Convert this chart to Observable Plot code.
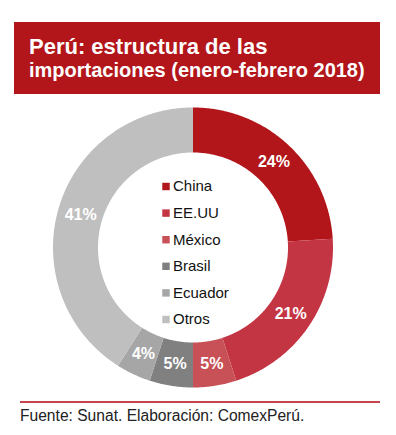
<!DOCTYPE html>
<html>
<head>
<meta charset="utf-8">
<script src="https://cdn.jsdelivr.net/npm/d3@7"></script>
<script src="https://cdn.jsdelivr.net/npm/@observablehq/plot@0.6"></script>
<style>
  html, body { margin: 0; padding: 0; background: #fff; }
  body { width: 396px; height: 435px; overflow: hidden; font-family: "Liberation Sans", Arial, sans-serif; }
  #title {
    margin: 22px 0 0 14px; width: 366px; height: 72px; box-sizing: border-box;
    background: #B2161A; color: #fff; font-weight: bold;
    padding: 13px 0 0 15px; white-space: nowrap;
  }
  #title .l1 { font-size: 22px; line-height: 23.5px; }
  #title .l2 { font-size: 20px; line-height: 23.5px; }
  #chart { height: 300px; }
  #chart svg { display: block; }
  #footer {
    margin: 7px 0 0 20px; width: 360px; border-top: 2px solid #C9454C;
    padding-top: 4px; font-size: 15.6px; line-height: 18px; color: #222; white-space: nowrap;
  }
</style>
</head>
<body>
<div id="title"><div class="l1">Perú: estructura de las</div><div class="l2">importaciones (enero-febrero 2018)</div></div>
<div id="chart"></div>
<div id="footer">Fuente: Sunat. Elaboración: ComexPerú.</div>
<script>
const categories = ["China", "EE.UU", "México", "Brasil", "Ecuador", "Otros"];
const shares = [24, 21, 5, 5, 4, 41];
const labels = ["24%", "21%", "5%", "5%", "4%", "41%"];
const colors = ["#B2161A", "#C43544", "#C85057", "#808080", "#A6A6A6", "#BFBFBF"];

const R = 140, r0 = 95, rLabel = 117.5;
const total = d3.sum(shares);

// ring geometry built from the shares
const ring = [];
const mids = [];
let acc = 0;
categories.forEach((c, i) => {
  const a0 = acc / total * 2 * Math.PI;
  acc += shares[i];
  const a1 = acc / total * 2 * Math.PI;
  const n = Math.max(8, Math.ceil((a1 - a0) / 0.01));
  for (let k = 0; k <= n; k++) {
    const t = a0 + (a1 - a0) * k / n;
    ring.push({cat: c, x1: r0 * Math.sin(t), y1: r0 * Math.cos(t), x2: R * Math.sin(t), y2: R * Math.cos(t)});
  }
  const m = (a0 + a1) / 2;
  mids.push({cat: c, label: labels[i], x: rLabel * Math.sin(m), y: rLabel * Math.cos(m)});
});

const legend = categories.map((c, i) => ({cat: c, x: -27.5, tx: -20.5, y: 61.5 - 26.6 * i}));

const chart = Plot.plot({
  width: 396,
  height: 300,
  marginLeft: 53,
  marginRight: 63,
  marginTop: 13.5,
  marginBottom: 6.5,
  x: {domain: [-R, R], axis: null},
  y: {domain: [-R, R], axis: null},
  color: {domain: categories, range: colors},
  style: {fontFamily: "'Liberation Sans', Arial, sans-serif", background: "transparent"},
  marks: [
    Plot.area(ring, {x1: "x1", y1: "y1", x2: "x2", y2: "y2", z: "cat", fill: "cat", curve: "linear"}),
    Plot.text(mids, {x: "x", y: "y", text: "label", fill: "white", fontSize: 16, fontWeight: "bold"}),
    Plot.dot(legend, {x: "x", y: "y", symbol: "square", r: 4.2, fill: "cat", stroke: null}),
    Plot.text(legend, {x: "tx", y: "y", text: "cat", textAnchor: "start", fontSize: 15, fill: "#111"})
  ]
});
document.getElementById("chart").appendChild(chart);
</script>
</body>
</html>
